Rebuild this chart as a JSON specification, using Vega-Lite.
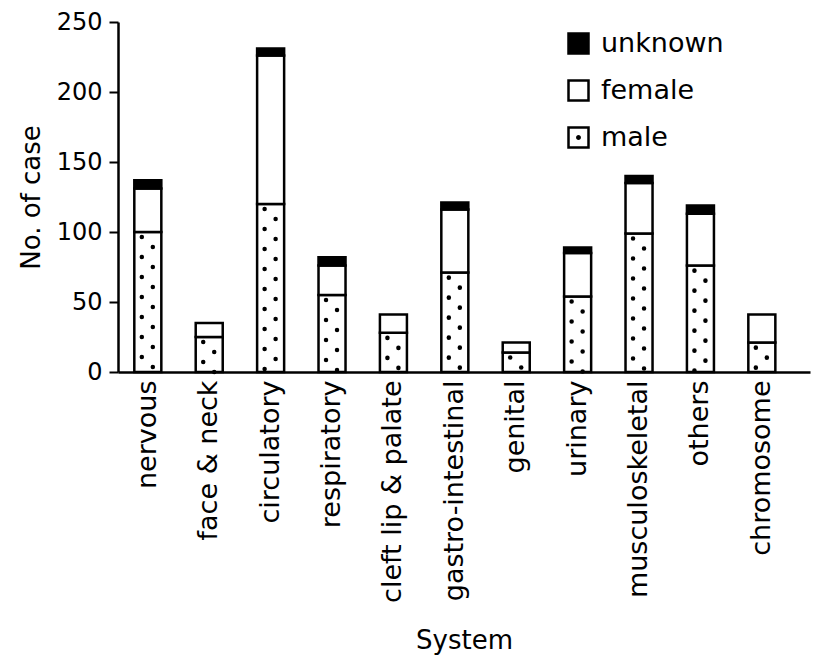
{
  "$schema": "https://vega.github.io/schema/vega-lite/v6.json",
  "width": 692,
  "height": 350,
  "autosize": {"type": "none"},
  "padding": {"left": 118, "top": 22, "right": 9, "bottom": 289},
  "background": "white",
  "config": {
    "view": {"stroke": null},
    "font": "DejaVu Sans",
    "axis": {"labelColor": "black", "titleColor": "black", "domainColor": "black", "tickColor": "black", "grid": false, "titleFontWeight": "normal", "labelFont": "DejaVu Sans", "titleFont": "DejaVu Sans"}
  },
  "data": {
    "values": [
      {"system": "nervous", "sex": "male", "count": 100, "ord": 1},
      {"system": "nervous", "sex": "female", "count": 31, "ord": 2},
      {"system": "nervous", "sex": "unknown", "count": 6, "ord": 3},
      {"system": "face & neck", "sex": "male", "count": 25, "ord": 1},
      {"system": "face & neck", "sex": "female", "count": 10, "ord": 2},
      {"system": "circulatory", "sex": "male", "count": 120, "ord": 1},
      {"system": "circulatory", "sex": "female", "count": 106, "ord": 2},
      {"system": "circulatory", "sex": "unknown", "count": 5, "ord": 3},
      {"system": "respiratory", "sex": "male", "count": 55, "ord": 1},
      {"system": "respiratory", "sex": "female", "count": 21, "ord": 2},
      {"system": "respiratory", "sex": "unknown", "count": 6, "ord": 3},
      {"system": "cleft lip & palate", "sex": "male", "count": 28, "ord": 1},
      {"system": "cleft lip & palate", "sex": "female", "count": 13, "ord": 2},
      {"system": "gastro-intestinal", "sex": "male", "count": 71, "ord": 1},
      {"system": "gastro-intestinal", "sex": "female", "count": 45, "ord": 2},
      {"system": "gastro-intestinal", "sex": "unknown", "count": 5, "ord": 3},
      {"system": "genital", "sex": "male", "count": 14, "ord": 1},
      {"system": "genital", "sex": "female", "count": 7, "ord": 2},
      {"system": "urinary", "sex": "male", "count": 54, "ord": 1},
      {"system": "urinary", "sex": "female", "count": 31, "ord": 2},
      {"system": "urinary", "sex": "unknown", "count": 4, "ord": 3},
      {"system": "musculoskeletal", "sex": "male", "count": 99, "ord": 1},
      {"system": "musculoskeletal", "sex": "female", "count": 36, "ord": 2},
      {"system": "musculoskeletal", "sex": "unknown", "count": 5, "ord": 3},
      {"system": "others", "sex": "male", "count": 76, "ord": 1},
      {"system": "others", "sex": "female", "count": 37, "ord": 2},
      {"system": "others", "sex": "unknown", "count": 6, "ord": 3},
      {"system": "chromosome", "sex": "male", "count": 21, "ord": 1},
      {"system": "chromosome", "sex": "female", "count": 20, "ord": 2}
    ]
  },
  "encoding": {
    "x": {
      "field": "system",
      "type": "nominal",
      "sort": null,
      "scale": {"paddingInner": 0.56, "paddingOuter": 0.415, "align": 0.32},
      "axis": {
        "title": "System",
        "titleFontSize": 26,
        "titleBaseline": "top",
        "titleY": 255,
        "labelFontSize": 27,
        "labelAngle": -90,
        "labelPadding": 8,
        "labelLimit": 400,
        "ticks": false,
        "domainWidth": 2.5
      }
    }
  },
  "layer": [
    {
      "mark": {"type": "bar", "stroke": "black", "strokeWidth": 2.5, "strokeJoin": "miter"},
      "encoding": {
        "y": {
          "field": "count",
          "type": "quantitative",
          "stack": "zero",
          "scale": {"domain": [0, 250], "nice": false},
          "axis": {
            "title": "No. of case",
            "titleFontSize": 26,
            "titlePadding": 12,
            "labelFontSize": 24,
            "labelPadding": 7,
            "values": [0, 50, 100, 150, 200, 250],
            "tickSize": 9,
            "tickWidth": 2,
            "domainWidth": 2.5
          }
        },
        "color": {
          "field": "sex",
          "type": "nominal",
          "scale": {"domain": ["unknown", "female", "male"], "range": ["black", "white", "white"]},
          "legend": {
            "title": null,
            "orient": "none",
            "legendX": 447,
            "legendY": 8,
            "symbolType": "square",
            "symbolSize": 400,
            "symbolStrokeColor": "black",
            "symbolStrokeWidth": 2.5,
            "symbolOpacity": 1,
            "labelFontSize": 27,
            "labelColor": "black",
            "labelOffset": 9,
            "rowPadding": 16,
            "encode": {
              "symbols": {
                "update": {
                  "shape": {"signal": "datum.value === 'male' ? 'M-1,-1H1V1H-1Z M-0.12,0 A0.12,0.12 0 1,0 0.12,0 A0.12,0.12 0 1,0 -0.12,0 Z' : 'square'"}
                }
              }
            }
          }
        },
        "order": {"field": "ord", "type": "quantitative"}
      }
    },
    {
      "transform": [{"filter": "datum.sex === 'male'"}],
      "mark": {"type": "rule", "xOffset": -6, "strokeWidth": 4.5, "strokeCap": "round", "strokeDash": [0.1, 19.9], "strokeDashOffset": 15, "color": "black"},
      "encoding": {
        "y": {"field": "count", "type": "quantitative"},
        "y2": {"datum": 0}
      }
    },
    {
      "transform": [{"filter": "datum.sex === 'male'"}],
      "mark": {"type": "rule", "xOffset": 5, "strokeWidth": 4.5, "strokeCap": "round", "strokeDash": [0.1, 19.9], "strokeDashOffset": 5, "color": "black"},
      "encoding": {
        "y": {"field": "count", "type": "quantitative"},
        "y2": {"datum": 0}
      }
    }
  ]
}
